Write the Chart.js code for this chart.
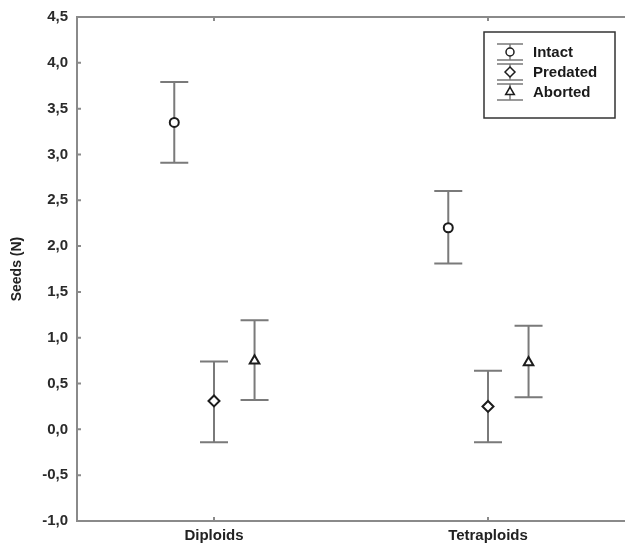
<!DOCTYPE html>
<html>
<head>
<meta charset="utf-8">
<script src="https://cdn.jsdelivr.net/npm/chart.js@4/dist/chart.umd.min.js"></script>
<style>
    html, body { margin: 0; padding: 0; background: #fff; }
    #wrap { width: 625px; height: 544px; }
</style>
</head>
<body>
<div id="wrap"><canvas id="chartSeeds" width="625" height="544"></canvas></div>
<script>
const categories = ['Diploids', 'Tetraploids'];
const seriesNames = ['Intact', 'Predated', 'Aborted'];

const intactMean = [3.35, 2.20];
const intactLow = [2.91, 1.81];
const intactHigh = [3.79, 2.60];

const predatedMean = [0.31, 0.25];
const predatedLow = [-0.14, -0.14];
const predatedHigh = [0.74, 0.64];

const abortedMean = [0.75, 0.73];
const abortedLow = [0.32, 0.35];
const abortedHigh = [1.19, 1.13];

const yMin = -1.0;
const yMax = 4.5;
const yStep = 0.5;

const FONT = '"Liberation Sans", Arial, sans-serif';
const AXIS_COLOR = '#8a8a8a';
const BAR_COLOR = '#7a7a7a';
const MARK_COLOR = '#1c1c1c';

const series = [
    { name: seriesNames[0], mean: intactMean, low: intactLow, high: intactHigh, style: 'circle', radius: 4.5, shift: -0.145 },
    { name: seriesNames[1], mean: predatedMean, low: predatedLow, high: predatedHigh, style: 'rectRot', radius: 5.5, shift: 0 },
    { name: seriesNames[2], mean: abortedMean, low: abortedLow, high: abortedHigh, style: 'triangle', radius: 5.5, shift: 0.148 }
];

// whiskers under the markers
const errorBars = {
    id: 'errorBars',
    beforeDatasetsDraw(chart) {
        const ctx = chart.ctx;
        const y = chart.scales.y;
        ctx.save();
        ctx.strokeStyle = BAR_COLOR;
        ctx.lineWidth = 2;
        series.forEach((s, di) => {
            chart.getDatasetMeta(di).data.forEach((pt, i) => {
                const top = y.getPixelForValue(s.high[i]);
                const bot = y.getPixelForValue(s.low[i]);
                ctx.beginPath();
                ctx.moveTo(pt.x, top);
                ctx.lineTo(pt.x, bot);
                ctx.moveTo(pt.x - 14, top);
                ctx.lineTo(pt.x + 14, top);
                ctx.moveTo(pt.x - 14, bot);
                ctx.lineTo(pt.x + 14, bot);
                ctx.stroke();
            });
        });
        ctx.restore();
    }
};

// top frame line, inward ticks and the boxed legend
const frame = {
    id: 'frame',
    afterDraw(chart) {
        const ctx = chart.ctx;
        const area = chart.chartArea;
        const x = chart.scales.x;
        const y = chart.scales.y;
        ctx.save();
        ctx.strokeStyle = AXIS_COLOR;
        ctx.lineWidth = 2;
        ctx.beginPath();
        ctx.moveTo(area.left, area.top);
        ctx.lineTo(chart.width, area.top);
        y.ticks.forEach(t => {
            const py = y.getPixelForValue(t.value);
            ctx.moveTo(area.left, py);
            ctx.lineTo(area.left + 4, py);
        });
        x.ticks.forEach(t => {
            const px = x.getPixelForValue(t.value);
            ctx.moveTo(px, area.bottom);
            ctx.lineTo(px, area.bottom - 4);
            ctx.moveTo(px, area.top);
            ctx.lineTo(px, area.top + 4);
        });
        ctx.stroke();

        // legend
        ctx.strokeStyle = '#333';
        ctx.lineWidth = 1.5;
        ctx.strokeRect(484, 32, 131, 86);
        const sx = 510;
        series.forEach((s, i) => {
            const cy = 52 + i * 20;
            ctx.strokeStyle = BAR_COLOR;
            ctx.lineWidth = 1.5;
            ctx.beginPath();
            ctx.moveTo(sx, cy - 8);
            ctx.lineTo(sx, cy + 8);
            ctx.moveTo(sx - 13, cy - 8);
            ctx.lineTo(sx + 13, cy - 8);
            ctx.moveTo(sx - 13, cy + 8);
            ctx.lineTo(sx + 13, cy + 8);
            ctx.stroke();
            ctx.fillStyle = '#fff';
            ctx.strokeStyle = MARK_COLOR;
            Chart.helpers.drawPoint(ctx, { pointStyle: s.style, radius: s.radius - 0.5, borderWidth: 1.8, rotation: 0 }, sx, cy);
            ctx.fillStyle = '#1a1a1a';
            ctx.font = 'bold 15px ' + FONT;
            ctx.textBaseline = 'middle';
            ctx.textAlign = 'left';
            ctx.fillText(s.name, 533, cy + 1);
        });
        ctx.restore();
    }
};

new Chart(document.getElementById('chartSeeds'), {
    type: 'scatter',
    data: {
        datasets: series.map(s => {
            return {
                label: s.name,
                data: categories.map((c, i) => ({ x: i + 0.5 + s.shift, y: s.mean[i] })),
                pointStyle: s.style,
                pointRadius: s.radius,
                pointBorderWidth: 2,
                pointBackgroundColor: '#fff',
                pointBorderColor: MARK_COLOR,
                showLine: false
            };
        })
    },
    options: {
        responsive: false,
        animation: false,
        layout: {
            autoPadding: false,
            padding: { top: 17, right: -4, bottom: 0, left: 0 }
        },
        plugins: {
            legend: { display: false },
            tooltip: { enabled: false }
        },
        scales: {
            x: {
                type: 'linear',
                min: 0,
                max: categories.length,
                afterBuildTicks: scale => {
                    scale.ticks = categories.map((c, i) => ({ value: i + 0.5 }));
                },
                afterFit: scale => { scale.height = 23; },
                grid: { display: false },
                border: { display: true, color: AXIS_COLOR, width: 2 },
                ticks: {
                    padding: -2,
                    color: '#222',
                    font: { family: FONT, size: 15, weight: 'bold' },
                    callback: (v, i) => categories[i]
                }
            },
            y: {
                min: yMin,
                max: yMax,
                afterFit: scale => { scale.width = 77; },
                grid: { display: false },
                border: { display: true, color: AXIS_COLOR, width: 2 },
                ticks: {
                    stepSize: yStep,
                    padding: 1,
                    color: '#2a2a2a',
                    font: { family: FONT, size: 15, weight: 'bold' },
                    callback: v => v.toFixed(1).replace('.', ',')
                },
                title: {
                    display: true,
                    text: 'Seeds (N)',
                    color: '#222',
                    padding: { top: 9, bottom: 0 },
                    font: { family: FONT, size: 14, weight: 'bold' }
                }
            }
        }
    },
    plugins: [errorBars, frame]
});
</script>
</body>
</html>
